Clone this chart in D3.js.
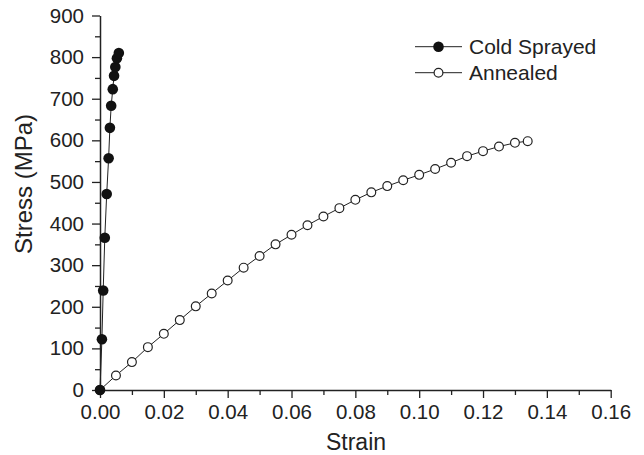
<!DOCTYPE html>
<html>
<head>
<meta charset="utf-8">
<script src="https://cdn.jsdelivr.net/npm/d3@7"></script>
<style>
body { margin: 0; background: #fff; }
svg text { font-family: "Liberation Sans", Arial, sans-serif; fill: #222; }
</style>
</head>
<body>
<svg width="644" height="455"></svg>
<script>
// data
var coldStrain = [0, 0.0006, 0.001, 0.0015, 0.0021, 0.0027, 0.0031, 0.0035, 0.004, 0.0044, 0.0048, 0.0053, 0.0059]
var coldStress = [0, 122, 239, 366, 471, 557, 630, 683, 723, 755, 776, 797, 810]

var annStrain = [0, 0.005, 0.01, 0.015, 0.02, 0.025, 0.03, 0.035, 0.04, 0.045, 0.05, 0.055, 0.06, 0.065,
    0.07, 0.075, 0.08, 0.085, 0.09, 0.095, 0.1, 0.105, 0.11, 0.115, 0.12, 0.125, 0.13, 0.134]
var annStress = [0, 35, 67, 103, 135, 168, 201, 232, 263, 294, 322, 350, 373, 396,
    417, 437, 457, 475, 490, 504, 517, 531, 546, 562, 574, 585, 594, 598]

var xTicks = [0, 0.02, 0.04, 0.06, 0.08, 0.10, 0.12, 0.14, 0.16]
var yTicks = [0, 100, 200, 300, 400, 500, 600, 700, 800, 900]
var seriesNames = ["Cold Sprayed", "Annealed"]

var svg = d3.select("svg")

var x = d3.scaleLinear().domain([0, 0.16]).range([100, 610.7])
var y = d3.scaleLinear().domain([0, 900]).range([390, 15.5])

// minor ticks first
svg.append("g")
    .attr("transform", "translate(0,390)")
    .call(d3.axisBottom(x).tickValues(d3.range(0.01, 0.16, 0.02)).tickSize(5).tickFormat(""))
    .call(g => g.select(".domain").remove())
svg.append("g")
    .attr("transform", "translate(100,0)")
    .call(d3.axisLeft(y).tickValues(d3.range(50, 900, 100)).tickSize(5).tickFormat(""))
    .call(g => g.select(".domain").remove())

var xAxis = svg.append("g")
    .attr("transform", "translate(0,390)")
    .call(d3.axisBottom(x).tickValues(xTicks).tickSize(8).tickSizeOuter(0).tickPadding(6)
        .tickFormat(d3.format(".2f")))
var yAxis = svg.append("g")
    .attr("transform", "translate(100,0)")
    .call(d3.axisLeft(y).tickValues(yTicks).tickSize(8).tickSizeOuter(0).tickPadding(8))

svg.selectAll(".tick line").attr("stroke", "#222").attr("stroke-width", 1.3)
svg.selectAll(".domain").attr("stroke", "#222").attr("stroke-width", 1.5)
svg.selectAll(".tick text").style("font-size", "20.5px").attr("fill", "#222")
xAxis.selectAll(".tick text").attr("dy", "0.75em")

svg.append("text")
    .attr("x", 356).attr("y", 450)
    .attr("text-anchor", "middle")
    .style("font-size", "23px")
    .text("Strain")

svg.append("text")
    .attr("transform", "translate(32,184) rotate(-90)")
    .attr("text-anchor", "middle")
    .style("font-size", "24px")
    .text("Stress (MPa)")

var line = d3.line().x(d => x(d[0])).y(d => y(d[1]))

var annData = annStrain.map((s, i) => [s, annStress[i]])
var coldData = coldStrain.map((s, i) => [s, coldStress[i]])

svg.append("path").datum(annData)
    .attr("d", line).attr("fill", "none").attr("stroke", "#222").attr("stroke-width", 1)
svg.append("g").selectAll("circle")
    .data(annData).enter().append("circle")
    .attr("cx", d => x(d[0])).attr("cy", d => y(d[1])).attr("r", 4.4)
    .attr("fill", "#fff").attr("stroke", "#222").attr("stroke-width", 1.2)

svg.append("path").datum(coldData)
    .attr("d", line).attr("fill", "none").attr("stroke", "#222").attr("stroke-width", 1)
svg.append("g").selectAll("circle")
    .data(coldData).enter().append("circle")
    .attr("cx", d => x(d[0])).attr("cy", d => y(d[1])).attr("r", 5.3)
    .attr("fill", "#111")

// legend
var legend = svg.append("g").selectAll("g")
    .data(seriesNames).enter().append("g")
    .attr("transform", (d, i) => "translate(415," + (46.7 + i * 26) + ")")
legend.append("line")
    .attr("x1", 0).attr("x2", 47).attr("stroke", "#222").attr("stroke-width", 1)
legend.append("circle")
    .attr("cx", 23.5).attr("r", (d, i) => i == 0 ? 5.3 : 4.4)
    .attr("fill", (d, i) => i == 0 ? "#111" : "#fff")
    .attr("stroke", "#222").attr("stroke-width", (d, i) => i == 0 ? 0 : 1.2)
legend.append("text")
    .attr("x", 54).attr("y", 7.5)
    .style("font-size", "21px")
    .text(d => d)
</script>
</body>
</html>
